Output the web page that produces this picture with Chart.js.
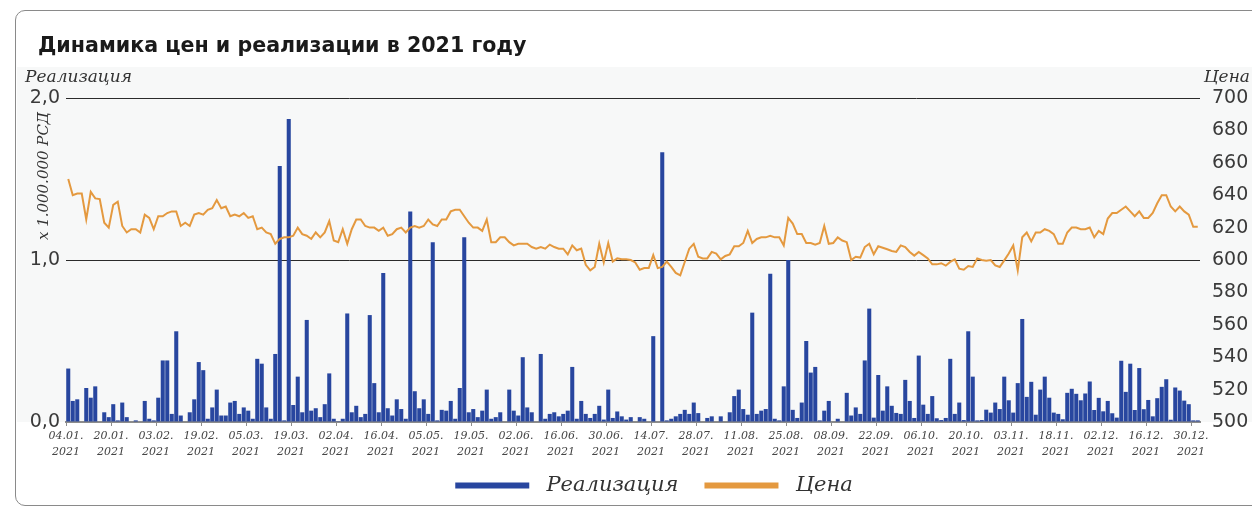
<!DOCTYPE html>
<html lang="ru">
<head>
<meta charset="utf-8">
<title>Динамика цен и реализации в 2021 году</title>
<script src="https://cdn.jsdelivr.net/npm/chart.js@4.4.1/dist/chart.umd.min.js"></script>
<style>
  html, body { margin: 0; padding: 0; background: #fff; }
  .wrap { position: relative; width: 1252px; height: 506px; overflow: hidden; }
  .card {
    position: absolute; left: 15px; top: 10px; width: 1300px; height: 494px;
    border: 1px solid #8a8a8a; border-radius: 10px;
  }
  canvas { position: absolute; left: 0; top: 0; }
</style>
</head>
<body>
<div class="wrap">
  <div class="card"></div>
  <canvas id="chart" width="1252" height="506"></canvas>
</div>
<script>
// подписи оси дат (каждый 10-й торговый день)
const tickDates = ['04.01.', '20.01.', '03.02.', '19.02.', '05.03.', '19.03.', '02.04.', '16.04.', '05.05.',
  '19.05.', '02.06.', '16.06.', '30.06.', '14.07.', '28.07.', '11.08.', '25.08.', '08.09.', '22.09.',
  '06.10.', '20.10.', '03.11.', '18.11.', '02.12.', '16.12.', '30.12.']

// реализация, млн РСД (по торговым дням)
const sales = [
  0.33, 0.13, 0.14, 0, 0.21, 0.15, 0.22, 0, 0.06, 0.03,
  0.11, 0.01, 0.12, 0.03, 0, 0.01, 0, 0.13, 0.02, 0.01,
  0.15, 0.38, 0.38, 0.05, 0.56, 0.04, 0, 0.06, 0.14, 0.37,
  0.32, 0.02, 0.09, 0.20, 0.04, 0.04, 0.12, 0.13, 0.05, 0.09,
  0.07, 0.02, 0.39, 0.36, 0.09, 0.02, 0.42, 1.58, 0.01, 1.87,
  0.105, 0.28, 0.06, 0.63, 0.07, 0.085, 0.03, 0.11, 0.30, 0.02,
  0.005, 0.02, 0.67, 0.06, 0.10, 0.03, 0.05, 0.66, 0.24, 0.06,
  0.92, 0.085, 0.04, 0.14, 0.08, 0.02, 1.30, 0.19, 0.085, 0.14,
  0.05, 1.11, 0.01, 0.075, 0.07, 0.13, 0.02, 0.21, 1.14, 0.06,
  0.08, 0.03, 0.07, 0.20, 0.02, 0.03, 0.06, 0, 0.20, 0.07,
  0.04, 0.40, 0.09, 0.06, 0, 0.42, 0.02, 0.05, 0.06, 0.035,
  0.05, 0.07, 0.34, 0.02, 0.13, 0.05, 0.025, 0.05, 0.10, 0.015,
  0.20, 0.025, 0.065, 0.035, 0.015, 0.03, 0, 0.03, 0.02, 0,
  0.53, 0, 1.665, 0.01, 0.02, 0.035, 0.05, 0.075, 0.05, 0.12,
  0.055, 0, 0.025, 0.035, 0, 0.035, 0, 0.06, 0.16, 0.20,
  0.08, 0.045, 0.675, 0.05, 0.07, 0.08, 0.915, 0.02, 0.01, 0.22,
  1.00, 0.075, 0.025, 0.12, 0.50, 0.305, 0.34, 0.01, 0.07, 0.13,
  0, 0.02, 0, 0.18, 0.04, 0.09, 0.05, 0.38, 0.70, 0.027,
  0.29, 0.07, 0.22, 0.10, 0.056, 0.05, 0.26, 0.13, 0.025, 0.41,
  0.107, 0.05, 0.16, 0.023, 0.012, 0.025, 0.39, 0.05, 0.12, 0.012,
  0.56, 0.28, 0.01, 0.012, 0.076, 0.058, 0.12, 0.08, 0.28, 0.134,
  0.058, 0.24, 0.636, 0.155, 0.248, 0.045, 0.20, 0.28, 0.15, 0.058,
  0.05, 0.017, 0.18, 0.205, 0.174, 0.134, 0.176, 0.25, 0.074, 0.149,
  0.066, 0.13, 0.054, 0.027, 0.378, 0.186, 0.36, 0.074, 0.333, 0.079,
  0.136, 0.035, 0.147, 0.217, 0.264, 0.014, 0.213, 0.194, 0.132, 0.11,
  0.01, 0.01
]

// цена
const prices = [
  650, 640, 641, 641, 625, 642, 638, 637.6, 623, 620,
  634, 636, 621, 617, 619, 619, 617, 628, 626, 619,
  627, 627, 629, 630, 630, 621, 623, 621, 628, 629,
  628, 631, 632, 637, 632, 633, 627, 628, 627, 629,
  626, 627, 619, 620, 617, 616, 610, 613, 614, 614,
  615, 620, 616, 615, 613, 617, 614, 617, 624, 612,
  611, 619, 610, 619, 625, 625, 621, 620, 620, 618,
  620, 615, 616, 619, 620, 617, 620, 621, 620, 621,
  625, 622, 621, 625, 625, 630, 631, 631, 627, 623,
  620, 620, 618, 625, 611, 611, 614, 614, 611, 609,
  610, 610, 610, 608, 607, 608, 607, 609.5, 608, 607,
  607, 603.5, 609, 606, 607, 597, 593.6, 595.7, 610, 598.5,
  610.5, 599, 601, 600.4, 600.4, 600, 598.5, 594, 595, 595,
  603, 595, 595.7, 599, 595.7, 592, 590.5, 598.8, 607, 610,
  602, 601, 601, 605, 604, 600.4, 602.5, 603.5, 608.5, 608.5,
  610.5, 618, 610.5, 613, 614, 614, 615, 614, 614, 609,
  626, 622.5, 616, 616, 610.5, 610.5, 609.5, 610.5, 621, 610,
  610.5, 614, 612, 611, 600, 602, 601.5, 608, 610, 603.5,
  608.5, 607.6, 606.6, 605.6, 605, 609, 608, 605, 602.7, 605,
  603, 601, 597.3, 597.3, 598, 596.5, 598.8, 600.4, 594.6, 594,
  596.3, 595.7, 601, 600, 599.6, 600, 596.7, 595.7, 599.8, 604,
  609, 593.6, 614, 617, 611.5, 617, 617, 619, 618, 616,
  610, 610, 617, 620, 620, 619, 619, 620, 614, 618,
  616, 625.6, 629, 629, 631, 633, 630, 627, 630, 626,
  626, 629, 635, 640, 640, 633, 630, 633, 630, 628,
  620.5, 620.5
]

const days = sales.map((_, i) => i)

const serif = "'DejaVu Serif', serif"
const sans = "'DejaVu Sans', sans-serif"

// фон области графика, заголовок и подписи осей
const chartDecor = {
  id: 'chartDecor',
  afterLayout(chart) {
    // двухстрочные подписи дат не должны обрезаться по рамке оси
    chart.scales.x.bottom += 20
    // легенда чуть правее центра
    chart.legend.left += 28
    chart.legend.right += 28
  },
  beforeDraw(chart) {
    const { ctx, chartArea, width } = chart
    ctx.save()
    ctx.fillStyle = '#f7f8f8'
    ctx.fillRect(17, 67, width - 17, chartArea.bottom - 67)

    ctx.fillStyle = '#1a1a1a'
    ctx.font = `bold 20.6px ${sans}`
    ctx.textBaseline = 'alphabetic'
    ctx.fillText('Динамика цен и реализации в 2021 году', 38, 52)

    ctx.fillStyle = '#333'
    ctx.font = `italic 17px ${serif}`
    ctx.textAlign = 'left'
    ctx.fillText('Реализация', 25, 82)
    ctx.textAlign = 'right'
    ctx.fillText('Цена', 1250, 82)

    ctx.translate(48, 176)
    ctx.rotate(-Math.PI / 2)
    ctx.textAlign = 'center'
    ctx.font = `italic 15px ${serif}`
    ctx.fillText('x 1.000.000 РСД', 0, 0)
    ctx.restore()
  }
}

const chart = new Chart(document.getElementById('chart'), {
  data: {
    labels: days,
    datasets: [
      {
        type: 'bar',
        label: 'Реализация',
        data: sales,
        backgroundColor: '#28469f',
        borderWidth: 0,
        barPercentage: 0.9,
        categoryPercentage: 1,
        yAxisID: 'y',
        order: 1,
      },
      {
        type: 'line',
        label: 'Цена',
        data: prices,
        borderColor: '#e4993f',
        backgroundColor: '#e4993f',
        borderWidth: 2,
        pointRadius: 0,
        tension: 0,
        yAxisID: 'y1',
        order: 0,
      },
    ],
  },
  options: {
    responsive: false,
    devicePixelRatio: 1,
    animation: false,
    layout: { padding: { top: 98, bottom: 0, left: 0, right: 0 } },
    scales: {
      x: {
        type: 'category',
        offset: true,
        grid: {
          offset: true,
          drawOnChartArea: false,
          tickLength: 4,
          color: (ctx) => (ctx.index % 10 === 0 && ctx.index < days.length ? '#8c8c8c' : 'rgba(0,0,0,0)'),
        },
        border: { color: '#8c8c8c', width: 2 },
        ticks: {
          autoSkip: false,
          maxRotation: 0,
          padding: 2,
          labelOffset: -2.25,
          color: '#444',
          font: { family: serif, style: 'italic', size: 11, lineHeight: 1.45 },
          callback: (v, i) => (i % 10 === 0 ? [tickDates[i / 10], '2021'] : ''),
        },
        afterFit: (scale) => { scale.height = 27 },
      },
      y: {
        position: 'left',
        min: 0,
        max: 2,
        border: { display: false },
        grid: {
          drawTicks: false,
          color: (ctx) => (ctx.tick.value === 0 ? 'rgba(0,0,0,0)' : '#2b2b2b'),
        },
        ticks: {
          stepSize: 1,
          padding: 6,
          color: '#3a3a3a',
          font: { family: sans, size: 19 },
          callback: (v) => v.toFixed(1).replace('.', ','),
        },
        afterFit: (scale) => { scale.width = 66 },
      },
      y1: {
        position: 'right',
        min: 500,
        max: 700,
        border: { display: false },
        grid: { display: false, drawTicks: false },
        ticks: {
          stepSize: 20,
          padding: 12,
          color: '#3a3a3a',
          font: { family: sans, size: 19 },
        },
        afterFit: (scale) => { scale.width = 52 },
      },
    },
    plugins: {
      legend: {
        position: 'bottom',
        labels: {
          boxWidth: 74,
          boxHeight: 6,
          padding: 26,
          color: '#333',
          font: { family: serif, style: 'italic', size: 21 },
          sort: (a, b) => a.datasetIndex - b.datasetIndex,
          // пробел перед подписью — отступ от цветной полосы
          generateLabels: (ch) =>
            Chart.defaults.plugins.legend.labels.generateLabels(ch)
              .map((item) => ({ ...item, text: ' ' + item.text, lineWidth: 0 })),
        },
      },
      tooltip: { enabled: false },
    },
  },
  plugins: [chartDecor],
})
</script>
</body>
</html>
